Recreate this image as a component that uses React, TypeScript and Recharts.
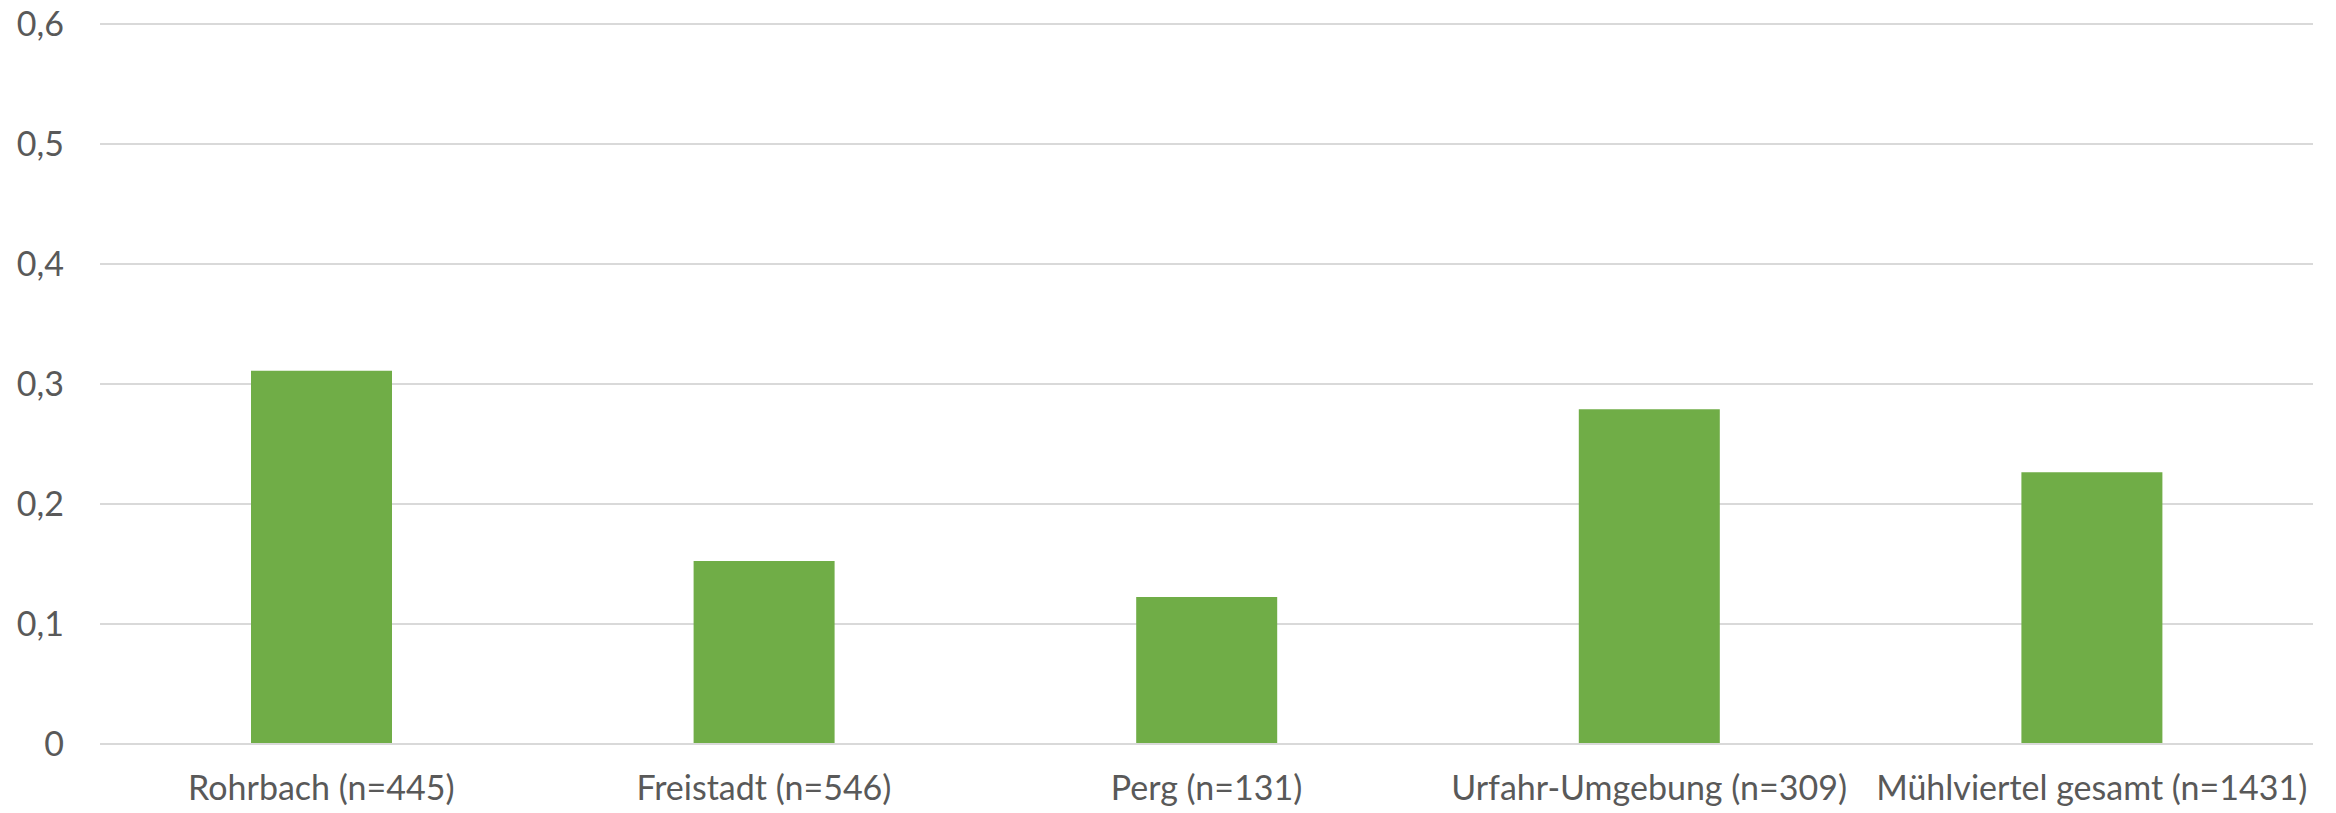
import { BarChart, Bar, XAxis, YAxis, CartesianGrid } from "recharts";

const regions = [
  "Rohrbach (n=445)",
  "Freistadt (n=546)",
  "Perg (n=131)",
  "Urfahr-Umgebung (n=309)",
  "Mühlviertel gesamt (n=1431)",
];
const values = [0.311, 0.1525, 0.1225, 0.279, 0.2265];
const yTicks = [0, 0.1, 0.2, 0.3, 0.4, 0.5, 0.6];

const data = regions.map((region, i) => ({ region, value: values[i] }));

const tickStyle = { fontSize: 34, fill: "#595959", fontFamily: "Lato, sans-serif" };

export default function App() {
  return (
    <div style={{ position: "absolute", left: 0, top: 0, background: "#fff" }}>
      <BarChart
        width={2336}
        height={813}
        data={data}
        margin={{ top: 24, right: 23, left: 0, bottom: 0 }}
      >
        <CartesianGrid vertical={false} stroke="#d9d9d9" strokeWidth={2} />
        <XAxis
          dataKey="region"
          height={69}
          interval={0}
          tick={tickStyle}
          tickLine={false}
          tickSize={0}
          tickMargin={32}
          axisLine={{ stroke: "#d9d9d9", strokeWidth: 2 }}
        />
        <YAxis
          width={100}
          domain={[0, 0.6]}
          ticks={yTicks}
          tickFormatter={(v: number) => String(v).replace(".", ",")}
          tick={tickStyle}
          tickLine={false}
          tickSize={0}
          tickMargin={36}
          axisLine={false}
        />
        <Bar dataKey="value" fill="#70ad47" barSize={141} isAnimationActive={false} />
      </BarChart>
    </div>
  );
}
